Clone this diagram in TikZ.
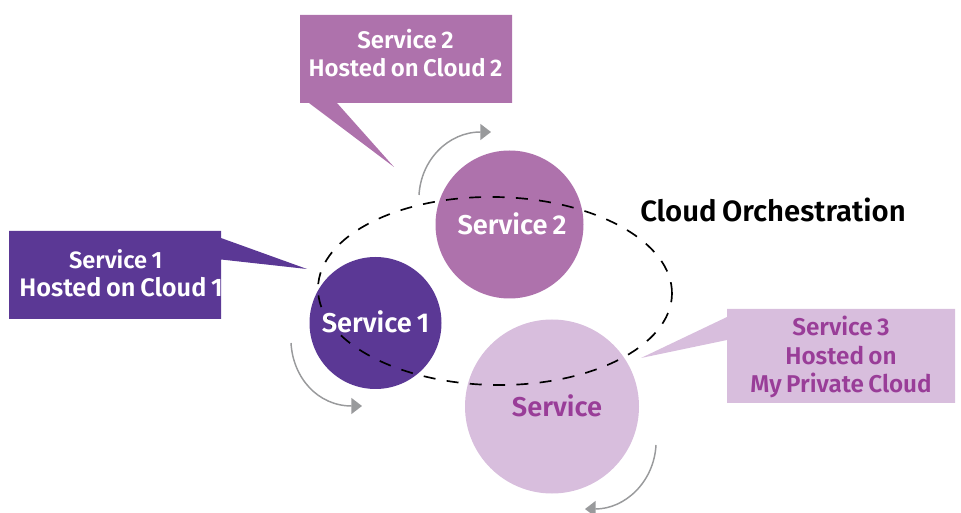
\documentclass[tikz,border=0pt]{standalone}
\usepackage{fontspec}
\setmainfont{Fira Sans}[BoldFont={Fira Sans SemiBold},WordSpace=0.75]
\usetikzlibrary{arrows.meta,shapes.geometric}
\definecolor{dk}{HTML}{5B3895}
\definecolor{md}{HTML}{AE72AC}
\definecolor{lt}{HTML}{D8BEDD}
\definecolor{tx}{HTML}{993D98}
\definecolor{gr}{HTML}{999A9C}
\tikzset{
  svc/.style={circle,inner sep=0pt,minimum size=#1*0.75pt},
  lbl/.style={align=center,font=\bfseries\fontsize{18}{21}\selectfont,inner sep=0pt},
  big/.style={font=\bfseries\fontsize{20.4}{23}\selectfont},
  turn/.style={draw=gr,line width=1.1pt,-{Triangle[length=8pt,width=12pt,fill=gr]}},
}
\begin{document}
\begin{tikzpicture}[x=0.75pt,y=-0.75pt]
\useasboundingbox (0,0) rectangle (961,513);
% circles
\node[svc=132,fill=dk] (c1) at (375.5,323) {};
\node[svc=148,fill=md] (c2) at (509.5,224.5) {};
\node[svc=174,fill=lt] (c3) at (552,406.5) {};
% callouts
\fill[dk] (9,231) -- (221,231) -- (221,238) -- (307,269) -- (221,259.5) -- (221,319) -- (9,319) -- cycle;
\fill[md] (300,15) -- (512,15) -- (512,103) -- (337,103) -- (394,167) -- (309,103) -- (300,103) -- cycle;
\fill[lt] (727,309) -- (955,309) -- (955,403) -- (727,403) -- (727,340) -- (641,358) -- (727,317) -- cycle;
% orbit
\node[draw,dash pattern=on 9pt off 8.5pt,line width=1.25pt,ellipse,inner sep=0pt,minimum width=354*0.75pt,minimum height=188*0.75pt,rotate=-1] (orbit) at (495,291) {};
% rotating arrows
\coordinate (a1s) at (291,343); \coordinate (a1e) at (362,406);
\coordinate (a2s) at (419,195); \coordinate (a2e) at (491,132);
\coordinate (a3s) at (656,445); \coordinate (a3e) at (585,509);
\draw[turn] (a1s) .. controls (293,378) and (318,406) .. (a1e);
\draw[turn] (a2s) .. controls (421,160) and (448,132) .. (a2e);
\draw[turn] (a3s) .. controls (654,482) and (625,509) .. (a3e);
% labels
\node[lbl,big,text=white] (t1) at (375.5,322) {Service 1};
\node[lbl,big,text=white] (t2) at (512,224) {Service 2};
\node[lbl,big,text=tx] (t3) at (557,406) {Service};
\node[lbl,text=white] (b1) at (121,273) {{\fontsize{17.7}{21}\selectfont Service 1\kern8pt}\\{\fontsize{19}{21}\selectfont Hosted on Cloud 1}};
\node[lbl,text=white] (b2) at (405.5,53.5) {Service 2\\Hosted on Cloud 2};
\node[lbl,text=tx,font=\bfseries\fontsize{18.2}{21.5}\selectfont] (b3) at (841,357) {Service 3\\Hosted on\\My Private Cloud};
\node[lbl,text=black,font=\bfseries\fontsize{22}{25}\selectfont] (title) at (773,209.5) {Cloud Orchestration};
\end{tikzpicture}
\end{document}
